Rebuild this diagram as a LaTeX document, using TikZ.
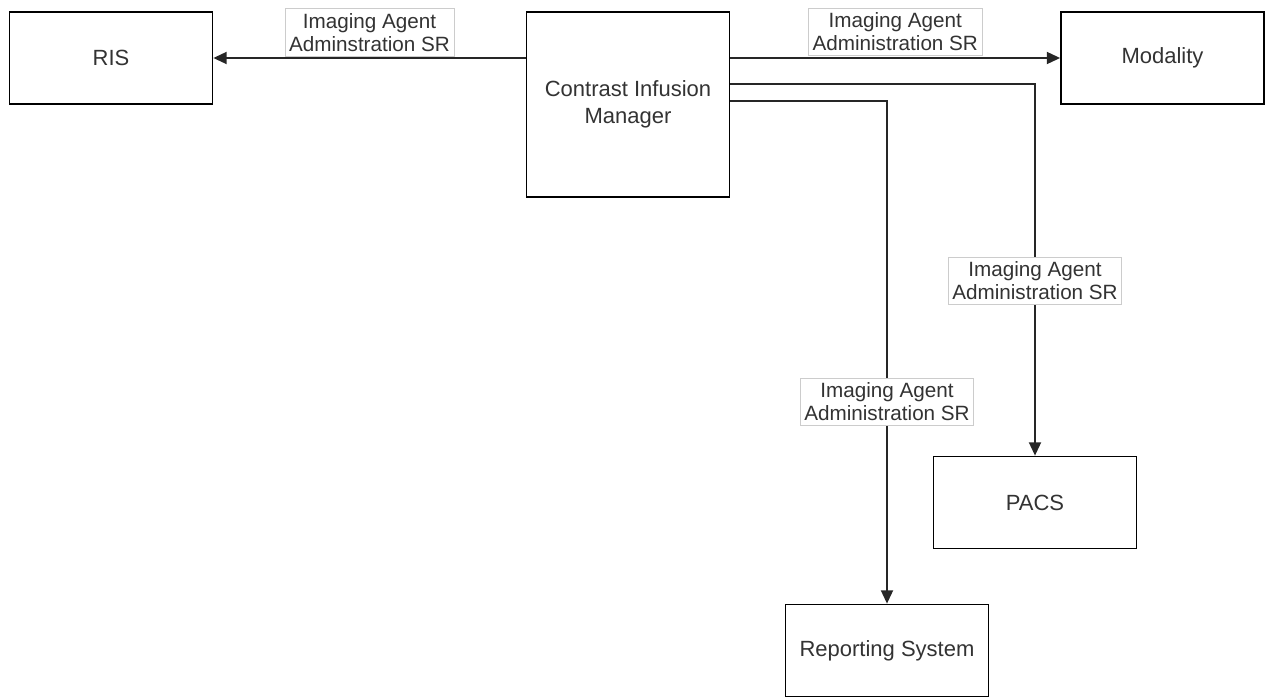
\documentclass[tikz,border=0pt]{standalone}
\usepackage{fontspec}
\setmainfont{Liberation Sans}
\usetikzlibrary{arrows.meta,calc}
\definecolor{txt}{HTML}{333333}
\tikzset{
  box/.style={draw=black, line width=1.3pt, fill=white, text=txt, align=center,
    minimum width=152.25pt, minimum height=69pt, inner sep=0pt,
    font=\fontsize{16.5}{20}\selectfont},
  conn/.style={draw=black!85, line width=1.4pt, -{Triangle[length=10pt,width=9pt]}},
  lab/.style={draw=black!20, line width=0.5pt, fill=white, text=txt, align=center,
    inner xsep=3pt, inner ysep=3.5pt, font=\fontsize{15.5}{17.3}\selectfont}
}
\begin{document}
\begin{tikzpicture}[x=0.75pt,y=-0.75pt]
\useasboundingbox (0,0) rectangle (1265,700);
\node[box] (ris) at (111,58) {RIS};
\node[box, minimum height=138.75pt] (cim) at (628,104.5) {Contrast Infusion\\Manager};
\node[box] (mod) at (1162.5,58) {Modality};
\node[box] (pacs) at (1035,502.5) {PACS};
\node[box] (rep) at (887,650.5) {Reporting System};

\draw[conn] (cim.west |- ris.east) -- node[lab, anchor=south, yshift=1pt] (l1) {Imaging Agent\\Adminstration SR} (ris.east);
\draw[conn] (cim.east |- mod.west) -- node[lab, anchor=south, yshift=1.5pt] (l2) {Imaging Agent\\Administration SR} (mod.west);
\draw[conn] ($(cim.north east)+(0,73)$) -| node[lab, pos=0.765] (l3) {Imaging Agent\\Administration SR} (pacs.north);
\draw[conn] ($(cim.north east)+(0,90)$) -| node[lab, pos=0.799] (l4) {Imaging Agent\\Administration SR} (rep.north);
\end{tikzpicture}
\end{document}
